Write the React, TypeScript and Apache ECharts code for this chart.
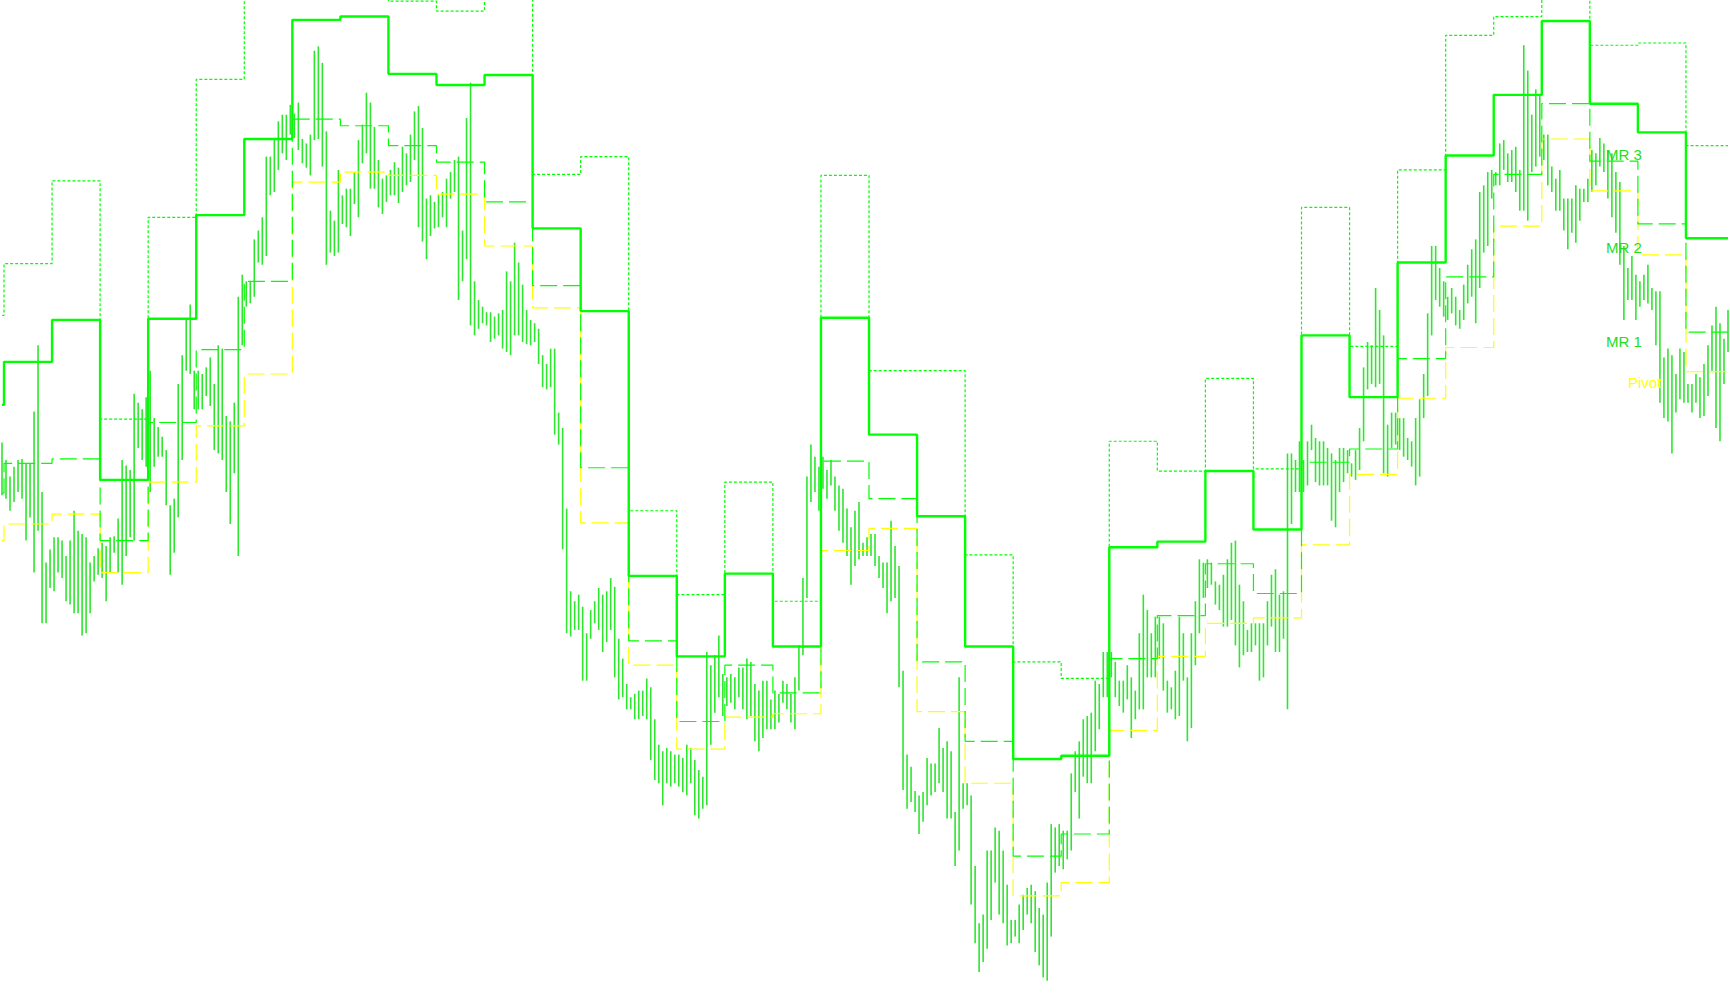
import React, { useEffect, useRef } from "react";
import * as echarts from "echarts";

// Hourly price bars grouped per daily session (high / low), in price points
const BAR_HIGH: number[][] = [
  [510],
  [494, 479, 488, 494, 495, 491, 491, 538, 598, 465, 401, 413],
  [424, 424, 421, 407, 421, 448, 430, 427, 424, 401, 407, 414],
  [419, 416, 424, 425, 441, 494, 489, 485, 554, 546, 540, 551],
  [575, 532, 524, 515, 503, 453, 459, 563, 589, 621, 635, 575],
  [575, 572, 578, 587, 563, 598, 595, 534, 529, 546, 642, 662],
  [656, 656, 694, 702, 714, 769, 769, 784, 801, 807, 807, 816],
  [808, 818, 785, 781, 789, 865, 869, 854, 792, 720, 711, 757],
  [734, 740, 740, 755, 784, 798, 827, 818, 796, 766, 749, 752],
  [757, 764, 759, 778, 772, 789, 810, 815, 795, 731, 734, 728],
  [734, 737, 749, 755, 766, 769, 702, 804, 836, 656, 639, 633],
  [628, 628, 624, 627, 630, 665, 656, 691, 673, 653, 630, 621],
  [618, 613, 589, 581, 595, 595, 537, 523, 450, 375, 366, 372],
  [361, 337, 358, 366, 378, 372, 375, 387, 379, 332, 314, 291],
  [279, 282, 285, 285, 296, 288, 259, 236, 230, 233, 230, 227],
  [227, 224, 236, 233, 222, 213, 207, 320, 308, 317, 335, 300],
  [297, 300, 297, 306, 306, 314, 311, 291, 285, 294, 294, 277],
  [285, 282, 294, 291, 282, 297, 326, 387, 479, 508, 497, 488],
  [497, 485, 494, 479, 471, 468, 450, 433, 448, 456, 419, 424],
  [427, 427, 407, 401, 401, 439, 416, 398, 303, 227, 216, 194],
  [190, 193, 224, 219, 219, 251, 233, 239, 230, 175, 297, 201],
  [201, 190, 126, 74, 82, 140, 140, 161, 158, 140, 109, 77],
  [77, 91, 100, 106, 109, 103, 88, 82, 111, 164, 161, 164],
  [158, 158, 210, 230, 239, 259, 262, 265, 294, 291, 320, 320],
  [320, 311, 294, 294, 308, 297, 285, 337, 372, 358, 337, 352],
  [352, 346, 294, 288, 303, 352, 337, 297, 337, 366, 404, 401],
  [404, 401, 384, 381, 390, 404, 419, 421, 381, 366, 340, 346],
  [346, 346, 346, 366, 390, 395, 372, 375, 500, 500, 494, 511],
  [494, 511, 526, 514, 511, 511, 505, 500, 494, 505, 505, 503],
  [491, 503, 523, 578, 601, 598, 650, 630, 607, 526, 537, 537],
  [532, 532, 514, 511, 532, 549, 572, 627, 688, 688, 668, 656],
  [642, 650, 642, 630, 653, 671, 685, 694, 737, 743, 755, 757],
  [755, 781, 784, 772, 775, 778, 757, 870, 847, 807, 830, 824],
  [789, 789, 760, 749, 757, 731, 731, 731, 743, 740, 740, 749],
  [775, 772, 786, 781, 775, 772, 755, 746, 688, 668, 679, 662],
  [656, 662, 671, 650, 647, 647, 587, 595, 589, 572, 595, 592],
  [563, 563, 572, 569, 581, 598, 616, 633, 618, 604, 630],
];

const BAR_LOW: number[][] = [
  [462],
  [459, 448, 456, 465, 459, 421, 442, 392, 430, 346, 346, 378],
  [375, 392, 387, 366, 363, 355, 355, 335, 337, 355, 384, 390],
  [387, 366, 392, 410, 392, 381, 407, 424, 421, 505, 494, 488],
  [465, 488, 497, 497, 453, 390, 410, 442, 494, 575, 572, 540],
  [540, 540, 552, 543, 503, 500, 494, 465, 436, 482, 407, 598],
  [633, 636, 642, 673, 671, 679, 734, 737, 757, 772, 766, 789],
  [786, 775, 763, 759, 752, 784, 785, 760, 671, 682, 679, 682],
  [708, 705, 697, 726, 714, 763, 772, 740, 740, 723, 717, 728],
  [734, 734, 727, 737, 743, 746, 766, 705, 692, 676, 697, 704],
  [705, 714, 705, 731, 737, 639, 656, 676, 616, 607, 613, 618],
  [616, 601, 604, 607, 595, 592, 589, 607, 607, 601, 599, 598],
  [601, 581, 560, 558, 560, 517, 508, 413, 337, 334, 340, 340],
  [294, 294, 332, 346, 340, 320, 329, 340, 297, 277, 279, 268],
  [268, 259, 259, 262, 259, 222, 204, 201, 181, 201, 198, 201],
  [198, 193, 190, 201, 172, 169, 178, 181, 236, 265, 279, 262],
  [271, 274, 268, 279, 268, 259, 262, 239, 230, 242, 250, 250],
  [250, 256, 274, 268, 256, 250, 285, 317, 369, 456, 465, 448],
  [468, 459, 471, 448, 430, 419, 407, 381, 398, 404, 407, 407],
  [407, 398, 387, 378, 355, 366, 369, 288, 195, 178, 184, 175],
  [155, 166, 181, 190, 193, 201, 193, 169, 169, 126, 140, 178],
  [181, 91, 56, 30, 39, 51, 77, 111, 82, 74, 54, 56],
  [62, 56, 68, 82, 74, 48, 36, 25, 22, 62, 120, 126],
  [123, 132, 140, 193, 169, 207, 201, 201, 230, 250, 279, 279],
  [297, 279, 271, 265, 277, 242, 259, 268, 268, 297, 297, 297],
  [314, 285, 265, 268, 259, 262, 294, 239, 251, 308, 337, 369],
  [378, 381, 363, 358, 343, 343, 349, 326, 306, 317, 320, 320],
  [326, 294, 297, 326, 343, 320, 320, 332, 268, 436, 465, 465],
  [465, 471, 503, 474, 471, 471, 471, 439, 433, 465, 474, 482],
  [479, 476, 485, 511, 558, 563, 560, 563, 482, 479, 505, 508],
  [503, 497, 494, 488, 471, 479, 532, 552, 607, 639, 633, 624],
  [621, 627, 616, 613, 621, 636, 642, 618, 650, 682, 688, 731],
  [743, 743, 757, 746, 746, 737, 720, 720, 711, 755, 760, 769],
  [766, 743, 737, 720, 720, 702, 685, 700, 691, 711, 728, 728],
  [737, 743, 760, 755, 731, 714, 700, 671, 621, 639, 639, 621],
  [633, 639, 636, 630, 598, 546, 532, 529, 500, 537, 549, 546],
  [546, 537, 546, 532, 534, 552, 575, 523, 511, 563, 592],
];

// Daily levels, one value per session
const PIVOT = [421, 436, 445, 392, 474, 525, 572, 746, 755, 752, 735, 688, 632, 437, 308, 232, 261, 264, 412, 432, 266, 201, 99, 111, 249, 316, 346, 351, 417, 481, 550, 596, 706, 785, 738, 680, 574];
const MR1 = [464, 491, 495, 421, 528, 594, 656, 803, 797, 779, 764, 728, 652, 487, 330, 257, 308, 283, 493, 459, 311, 239, 135, 155, 314, 353, 400, 373, 492, 504, 586, 660, 753, 817, 765, 708, 610];
const MR2 = [544, 583, 621, 476, 622, 716, 785, 893, 896, 844, 834, 843, 704, 629, 389, 316, 391, 325, 623, 517, 443, 325, 223, 226, 415, 420, 484, 431, 607, 551, 673, 770, 825, 892, 817, 791, 695];
const MR3 = [625, 672, 747, 531, 714, 839, 951, 951, 951, 910, 901, 951, 753, 769, 448, 372, 474, 366, 752, 575, 575, 408, 311, 296, 511, 484, 568, 486, 723, 597, 757, 879, 896, 951, 870, 872, 779];

const LEVEL_NAMES = ["MR 3", "MR 2", "MR 1", "Pivot"];
const Y_MIN = 0;
const Y_MAX = 911;

const BAR_COLOR = "#2ee62e";
const LABEL_GREEN = "#22dd22";
const GREEN = "#00ff00";
const YELLOW = "#ffff00";

function expand(levels: number[]): number[] {
  const out: number[] = [];
  BAR_HIGH.forEach((session, k) => session.forEach(() => out.push(levels[k])));
  return out;
}

export default function App() {
  const ref = useRef<HTMLDivElement>(null);

  useEffect(() => {
    document.body.style.margin = "0";
    document.body.style.overflow = "hidden";
    if (!ref.current) return;
    const chart = echarts.init(ref.current, undefined, { renderer: "svg" });

    const highs = BAR_HIGH.flat();
    const lows = BAR_LOW.flat();
    const categories = highs.map((_, i) => String(i));
    const bars = highs.map((h, i) => [i, lows[i], h]);

    const labelFont = { fontSize: 15, fontFamily: '"Liberation Sans", Arial, sans-serif' };
    const labelPos = [
      { x: 1606, y: 154, fill: LABEL_GREEN },
      { x: 1606, y: 247, fill: LABEL_GREEN },
      { x: 1606, y: 341, fill: LABEL_GREEN },
      { x: 1628, y: 382, fill: YELLOW },
    ];

    chart.setOption({
      animation: false,
      backgroundColor: "#ffffff",
      grid: { left: 0, right: 0, top: 0, bottom: 0, containLabel: false },
      xAxis: {
        type: "category",
        data: categories,
        boundaryGap: true,
        show: false,
      },
      yAxis: {
        type: "value",
        min: Y_MIN,
        max: Y_MAX,
        show: false,
        splitLine: { show: false },
      },
      series: [
        {
          type: "custom",
          name: "Price",
          silent: true,
          z: 1,
          encode: { x: 0, y: [1, 2] },
          data: bars,
          renderItem: (params: any, api: any) => {
            const x = api.value(0);
            const top = api.coord([x, api.value(2)]);
            const bot = api.coord([x, api.value(1)]);
            return {
              type: "line",
              shape: { x1: top[0], y1: top[1], x2: bot[0], y2: bot[1] },
              style: { stroke: BAR_COLOR, lineWidth: 1.6 },
            };
          },
        },
        {
          type: "line",
          name: "Pivot",
          data: expand(PIVOT),
          step: "middle",
          symbol: "none",
          silent: true,
          z: 3,
          lineStyle: { color: YELLOW, width: 1.2, type: [17, 6] },
        },
        {
          type: "line",
          name: "MR 1",
          data: expand(MR1),
          step: "middle",
          symbol: "none",
          silent: true,
          z: 3,
          lineStyle: { color: GREEN, width: 1.2, type: [17, 6] },
        },
        {
          type: "line",
          name: "MR 2",
          data: expand(MR2),
          step: "middle",
          symbol: "none",
          silent: true,
          z: 4,
          lineStyle: { color: GREEN, width: 2.4, type: "solid" },
        },
        {
          type: "line",
          name: "MR 3",
          data: expand(MR3),
          step: "middle",
          symbol: "none",
          silent: true,
          z: 3,
          lineStyle: { color: GREEN, width: 1.2, type: [3, 2] },
        },
      ],
      graphic: LEVEL_NAMES.map((name, i) => ({
        type: "text",
        silent: true,
        z: 10,
        x: labelPos[i].x,
        y: labelPos[i].y,
        style: {
          text: name,
          fill: labelPos[i].fill,
          verticalAlign: "middle",
          align: "left",
          ...labelFont,
        },
      })),
    });

    return () => chart.dispose();
  }, []);

  return <div ref={ref} style={{ width: 1730, height: 1005 }} />;
}
